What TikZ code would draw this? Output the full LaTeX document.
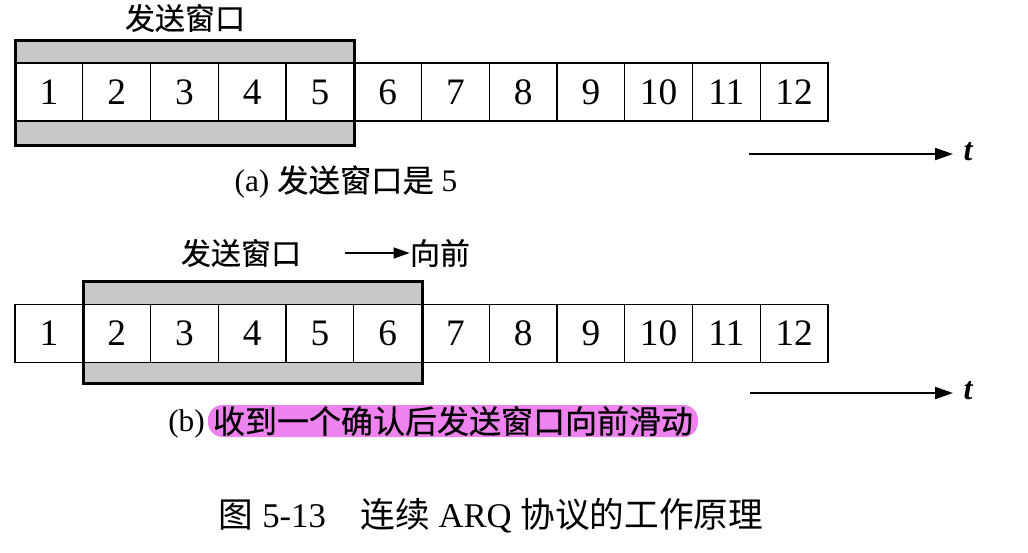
\documentclass[tikz,border=0pt]{standalone}
\usepackage{fontspec}
\setmainfont{Liberation Serif}
\newfontfamily\cjkf{Noto Sans CJK SC}[BoldFont=Noto Sans CJK SC, BoldFeatures={FakeBold=0.35}]
\newcommand{\cjk}{\cjkf\bfseries}
\usetikzlibrary{arrows.meta}
\definecolor{barfill}{RGB}{200,200,200}
\definecolor{hl}{RGB}{238,130,238}
\begin{document}
\begin{tikzpicture}[x=0.75pt,y=-0.75pt,
  cell/.style={draw,line width=1pt,fill=white,minimum width=50.8125pt,minimum height=43.5pt,inner sep=0pt,font=\fontsize{28}{30}\selectfont},
  winframe/.style={draw,line width=2.25pt},
  bar/.style={fill=barfill},
  lab/.style={font=\fontsize{23.5}{26}\selectfont, inner sep=0pt},
  cjklab/.style={font=\fontsize{22.5}{26}\selectfont\cjk, inner sep=0pt},
  tarrow/.style={line width=1.5pt,-{Triangle[length=13.5pt,width=9pt]}},
  smallarrow/.style={line width=1.5pt,-{Triangle[length=12pt,width=8pt]}},
  tlab/.style={font=\fontsize{24}{26}\selectfont\bfseries\itshape, inner sep=0pt},
  hlbox/.style={fill=hl, rounded corners=11pt, minimum width=367.5pt, minimum height=24pt, inner sep=0pt, font=\fontsize{24}{26}\selectfont\cjk},
  titlelab/.style={font=\fontsize{26}{28}\selectfont, inner sep=0pt}
]
\useasboundingbox (0,0) rectangle (1028,553);
% ---- (a) ----
\fill[bar] (15.5,40.5) rectangle (354.5,145.5);
\foreach \i in {1,...,12}
  \node[cell] (a\i) at ({15+67.75*(\i-0.5)},92) {\i};
\draw[winframe] (15.5,40.5) rectangle (354.5,145.5);
\node[cjklab] (wa) at (185,18) {发送窗口};
\coordinate (ta1) at (749,154);
\coordinate (ta2) at (953,154);
\draw[tarrow] (ta1) -- (ta2);
\node[tlab] (t1) at (968,152) {t};
\node[lab] (capa) at (346,182) {(a) {\cjk 发送窗口是} 5};
% ---- (b) ----
\fill[bar] (83.5,281.5) rectangle (422.5,383.5);
\foreach \i in {1,...,12}
  \node[cell] (b\i) at ({15+67.75*(\i-0.5)},333.5) {\i};
\draw[winframe] (83.5,281.5) rectangle (422.5,383.5);
\node[cjklab] (wb) at (241,253) {发送窗口};
\node[cjklab] (fwd) at (440,253) {向前};
\coordinate (fa) at (345,253);
\draw[smallarrow] (fa) -- (fwd.west);
\coordinate (tb1) at (750,393);
\coordinate (tb2) at (953,393);
\draw[tarrow] (tb1) -- (tb2);
\node[tlab] (t2) at (968,391) {t};
\node[hlbox] (capb) at (453,421) {收到一个确认后发送窗口向前滑动};
\node[lab, anchor=east] (blab) at ([xshift=-2pt,yshift=-2pt]capb.west) {(b)};
% ---- caption ----
\node[titlelab] (title) at (491,516) {{\cjkf 图} 5-13\hspace{1em}{\cjkf 连续} ARQ {\cjkf 协议的工作原理}};
\end{tikzpicture}
\end{document}
